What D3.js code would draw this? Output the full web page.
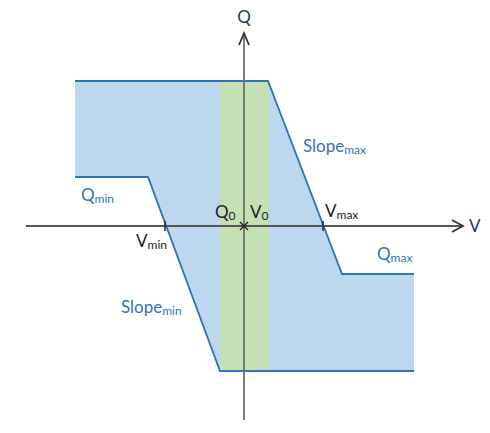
<!DOCTYPE html>
<html>
<head>
<meta charset="utf-8">
<script src="https://cdn.jsdelivr.net/npm/d3@7"></script>
<style>
  html, body { margin: 0; padding: 0; background: #fff; }
  svg { display: block; font-family: Lato, "Noto Sans", sans-serif; }
</style>
</head>
<body>
<div id="chart"></div>
<script>
// Q(V) capability chart, values in abstract V / Q units
const upperEdge = [[-16.9, 14.5], [2.4, 14.5], [9.8, -4.8], [17.0, -4.8]];
const lowerEdge = [[-16.9, 4.9], [-9.6, 4.9], [-2.4, -14.5], [17.0, -14.5]];
const deadBand = [-2.4, 2.5];
const bandQ = [-14.5, 14.5];
const vTicks = [-7.9, 7.9];
const vAxisExtent = [-21.8, 21.9];
const qAxisExtent = [-19.4, 19.3];

// label text: [main, subscript, anchor v, anchor q, colour key]
const labels = [
  ["Q", "", 0, 20.3, "axis"],
  ["V", "", 22.5, -0.6, "axis"],
  ["Q", "min", -16.3, 2.5, "blue"],
  ["Slope", "max", 5.9, 7.4, "blue"],
  ["Slope", "min", -12.3, -8.7, "blue"],
  ["Q", "max", 13.3, -3.4, "blue"],
  ["Q", "0", -2.9, 0.8, "dark"],
  ["V", "0", 0.6, 0.8, "dark"],
  ["V", "max", 8.1, 0.9, "dark"],
  ["V", "min", -10.8, -2.1, "dark"],
];

const width = 490;
const height = 433;
const lineBlue = "#2e75b6";
const fillBlue = "#bdd7ee";
const fillGreen = "#c5e0b4";
const axisColor = "#555";
const colors = { axis: "#1f3864", blue: "#2e75b6", dark: "#222" };

const x = d3.scaleLinear().domain([-22, 22]).range([24, 464]);
const y = d3.scaleLinear().domain([-20, 20]).range([426, 26]);

const svg = d3.select("#chart").append("svg")
  .attr("width", width)
  .attr("height", height);

const line = d3.line().x(d => x(d[0])).y(d => y(d[1]));

// capability region between the two edges
svg.append("path")
  .attr("d", line([...upperEdge, ...lowerEdge.slice().reverse()]) + "Z")
  .attr("fill", fillBlue)
  .attr("stroke", "none");

// dead band around V0
svg.append("rect")
  .attr("x", x(deadBand[0]))
  .attr("width", x(deadBand[1]) - x(deadBand[0]))
  .attr("y", y(bandQ[1]))
  .attr("height", y(bandQ[0]) - y(bandQ[1]))
  .attr("fill", fillGreen);

[upperEdge, lowerEdge].forEach(edge => {
  svg.append("path")
    .attr("d", line(edge))
    .attr("fill", "none")
    .attr("stroke", lineBlue)
    .attr("stroke-width", 1.8);
});

// axes
const axes = svg.append("g")
  .attr("stroke", axisColor)
  .attr("fill", "none")
  .attr("stroke-width", 1.8);

axes.append("line")
  .attr("x1", x(vAxisExtent[0])).attr("x2", x(vAxisExtent[1]))
  .attr("y1", y(0)).attr("y2", y(0));
axes.append("line")
  .attr("x1", x(0)).attr("x2", x(0))
  .attr("y1", y(qAxisExtent[0])).attr("y2", y(qAxisExtent[1]))
  .attr("stroke", "#6f6f6f");

const vTip = x(vAxisExtent[1]);
axes.append("path")
  .attr("d", `M${vTip - 11},${y(0) - 6}L${vTip},${y(0)}L${vTip - 11},${y(0) + 6}`)
  .attr("stroke", "#333");
const qTip = y(qAxisExtent[1]);
axes.append("path")
  .attr("d", `M${x(0) - 5},${qTip + 12}L${x(0)},${qTip}L${x(0) + 5},${qTip + 12}`)
  .attr("stroke", "#333");

axes.selectAll(".vtick")
  .data(vTicks)
  .enter()
  .append("line")
  .attr("x1", d => x(d)).attr("x2", d => x(d))
  .attr("y1", y(0) - 5).attr("y2", y(0) + 5)
  .attr("stroke", "#1a2a40")
  .attr("stroke-width", 1.5);

// origin cross
axes.append("path")
  .attr("d", `M${x(0) - 4},${y(0) - 4}L${x(0) + 4},${y(0) + 4}M${x(0) - 4},${y(0) + 4}L${x(0) + 4},${y(0) - 4}`)
  .attr("stroke", "#222")
  .attr("stroke-width", 1.4);

// labels
const text = svg.selectAll(".label")
  .data(labels)
  .enter()
  .append("text")
  .attr("x", d => x(d[2]))
  .attr("y", d => y(d[3]))
  .attr("text-anchor", d => d[1] === "" && d[0] === "Q" ? "middle" : "start")
  .attr("fill", d => colors[d[4]])
  .style("font-size", "17px");

text.append("tspan").text(d => d[0]);
text.append("tspan")
  .attr("dy", 2)
  .style("font-size", "12px")
  .text(d => d[1]);
</script>
</body>
</html>
